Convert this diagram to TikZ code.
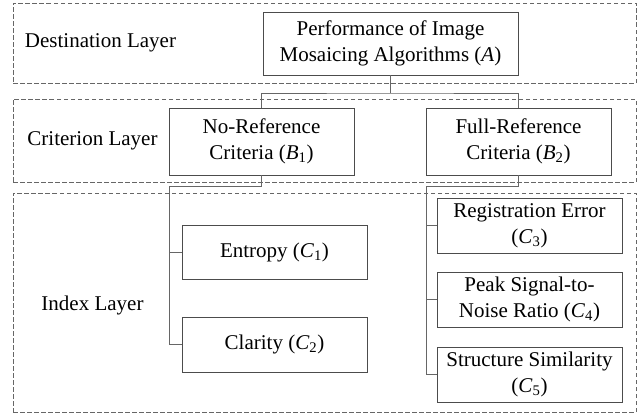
\documentclass[tikz,border=0pt]{standalone}
\usepackage{fontspec}
\setmainfont{Liberation Serif}
\begin{document}
\begin{tikzpicture}[x=1pt,y=-1pt,
  every node/.style={inner sep=0pt, outer sep=0pt},
  txt/.style={font=\fontsize{21}{26}\selectfont, text=black, align=center},
  box/.style={txt, draw=black!70, line width=1pt, rectangle},
  layerbox/.style={draw=black!60, line width=0.9pt, dash pattern=on 4.5pt off 2.5pt, rectangle},
  conn/.style={draw=black!60, line width=1pt}]
\useasboundingbox (0,0) rectangle (638,415);
% layer frames
\node[layerbox, minimum width=623pt, minimum height=80pt] (L1) at (324.5,43) {};
\node[layerbox, minimum width=623pt, minimum height=83pt] (L2) at (324.5,140.5) {};
\node[layerbox, minimum width=623pt, minimum height=219pt] (L3) at (324.5,302.5) {};
% layer labels
\node[txt] (t1) at (100.5,43) {Destination Layer};
\node[txt] (t2) at (92.5,140.5) {Criterion Layer};
\node[txt] (t3) at (92.5,305) {Index Layer};
% boxes
\node[box, minimum width=255pt, minimum height=63pt] (A) at (390.5,43.5) {Performance of Image\\Mosaicing Algorithms (\textit{A})};
\node[box, minimum width=185pt, minimum height=67pt] (B1) at (261.5,141.5) {No-Reference\\Criteria (\textit{B}\textsubscript{1})};
\node[box, minimum width=185pt, minimum height=67pt] (B2) at (518.5,141.5) {Full-Reference\\Criteria (\textit{B}\textsubscript{2})};
\node[box, minimum width=185pt, minimum height=54pt] (C1) at (274.5,252) {Entropy (\textit{C}\textsubscript{1})};
\node[box, minimum width=185pt, minimum height=55pt] (C2) at (274.5,344.5) {Clarity (\textit{C}\textsubscript{2})};
\node[box, minimum width=185pt, minimum height=55pt] (C3) at (529.5,225.5) {Registration Error\\(\textit{C}\textsubscript{3})};
\node[box, minimum width=185pt, minimum height=55pt] (C4) at (529.5,299.5) {Peak Signal-to-\\Noise Ratio (\textit{C}\textsubscript{4})};
\node[box, minimum width=185pt, minimum height=55pt] (C5) at (529.5,374.5) {Structure Similarity\\(\textit{C}\textsubscript{5})};
% junctions
\coordinate (jA) at (390.5,93);
\coordinate (jB1) at (169,186);
\coordinate (jB2) at (426,186);
% connectors
\draw[conn] (A.south) -- (jA);
\draw[conn] (B1.north) |- (jA) -| (B2.north);
\draw[conn] (B1.south) |- (jB1) -- (jB1 |- C2.west) -- (C2.west);
\draw[conn] (jB1 |- C1.west) -- (C1.west);
\draw[conn] (B2.south) |- (jB2) -- (jB2 |- C5.west) -- (C5.west);
\draw[conn] (jB2 |- C3.west) -- (C3.west);
\draw[conn] (jB2 |- C4.west) -- (C4.west);
\end{tikzpicture}
\end{document}
